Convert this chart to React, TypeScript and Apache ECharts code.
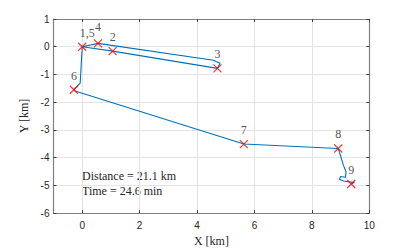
import React, { useEffect, useRef } from "react";
import * as echarts from "echarts";

// Trajectory (km)
const pathX = [0, 1.06, 4.71, 4.8, 4.57, 0.55, 0, -0.07, -0.29, -0.25, 5.63, 8.92, 9.1, 9.19, 9.17, 9.0, 8.96, 9.1, 9.48, 9.37];
const pathY = [0, -0.16, -0.78, -0.6, -0.49, 0.12, 0, -1.31, -1.55, -1.6, -3.51, -3.67, -4.28, -4.51, -4.71, -4.68, -4.78, -4.84, -4.9, -4.95];

// Stops
const stopLabels = ["1,5", "2", "3", "4", "6", "7", "8", "9"];
const stopX = [0, 1.06, 4.71, 0.55, -0.29, 5.63, 8.92, 9.37];
const stopY = [0, -0.16, -0.78, 0.12, -1.55, -3.51, -3.67, -4.95];

const xTicks = [0, 2, 4, 6, 8, 10];
const distanceKm = 21.1;
const timeMin = 24.6;

const SERIF = "'Liberation Serif', 'DejaVu Serif', serif";
const SANS = "'Liberation Sans', Arial, sans-serif";

export default function App() {
  const ref = useRef<HTMLDivElement>(null);
  useEffect(() => {
    if (!ref.current) return;
    const chart = echarts.init(ref.current, undefined, { renderer: "svg" });
    const axisLine = { show: true, onZero: false, lineStyle: { color: "#808080", width: 1.2 } };
    const axisTick = { show: true, inside: true, length: 3, lineStyle: { color: "#404040", width: 1 } };
    const splitLine = { show: true, lineStyle: { color: "#e3e3e3", width: 1 } };
    chart.setOption({
      animation: false,
      backgroundColor: "#ffffff",
      grid: { left: 53.5, right: 40.7, top: 19, bottom: 32.7, containLabel: false },
      xAxis: [
        {
          type: "value",
          min: -1,
          max: 10,
          position: "bottom",
          name: "X [km]",
          nameLocation: "middle",
          nameGap: 18,
          nameTextStyle: { fontFamily: SERIF, fontSize: 12, color: "#262626" },
          axisLine,
          axisTick: { ...axisTick, customValues: xTicks },
          axisLabel: { customValues: xTicks, fontFamily: SANS, fontSize: 10, color: "#262626", margin: 7 },
          splitLine,
        },
        {
          type: "value",
          min: -1,
          max: 10,
          position: "top",
          axisLine,
          axisTick: { ...axisTick, customValues: xTicks },
          axisLabel: { show: false },
          splitLine: { show: false },
        },
      ],
      yAxis: [
        {
          type: "value",
          min: -6,
          max: 1,
          interval: 1,
          position: "left",
          name: "Y [km]",
          nameLocation: "middle",
          nameGap: 17,
          nameTextStyle: { fontFamily: SERIF, fontSize: 12, color: "#262626" },
          axisLine,
          axisTick,
          axisLabel: { fontFamily: SANS, fontSize: 10, color: "#262626", margin: 4 },
          splitLine,
        },
        {
          type: "value",
          min: -6,
          max: 1,
          interval: 1,
          position: "right",
          axisLine,
          axisTick,
          axisLabel: { show: false },
          splitLine: { show: false },
        },
      ],
      graphic: [
        {
          type: "text",
          left: 82,
          top: 169,
          style: {
            text: `Distance = ${distanceKm} km\nTime = ${timeMin} min`,
            font: `12px ${SERIF}`,
            fill: "#262626",
            lineHeight: 14.5,
          },
        },
      ],
      series: [
        {
          type: "line",
          xAxisIndex: 0,
          yAxisIndex: 0,
          data: pathX.map((x, i) => [x, pathY[i]]),
          showSymbol: false,
          symbol: "none",
          lineStyle: { color: "#0072BD", width: 1.1 },
          smooth: false,
          z: 2,
        },
        {
          type: "scatter",
          xAxisIndex: 0,
          yAxisIndex: 0,
          symbol: "path://M0,0L10,10M10,0L0,10",
          symbolSize: 8,
          itemStyle: { color: "rgba(0,0,0,0)", borderColor: "#ff0000", borderWidth: 1.2 },
          label: {
            show: true,
            position: "top",
            distance: 3.5,
            fontFamily: SERIF,
            fontSize: 12,
            color: "#262626",
            formatter: (p: any) => p.name,
          },
          data: stopLabels.map((n, i) => ({
            name: n,
            value: [stopX[i], stopY[i]],
            label: n === "1,5" ? { offset: [5, 0] } : n === "4" ? { offset: [0, -2] } : undefined,
          })),
          z: 3,
        },
      ],
    });
    return () => chart.dispose();
  }, []);
  return <div ref={ref} style={{ position: "absolute", left: 0, top: 0, width: 410, height: 252 }} />;
}
